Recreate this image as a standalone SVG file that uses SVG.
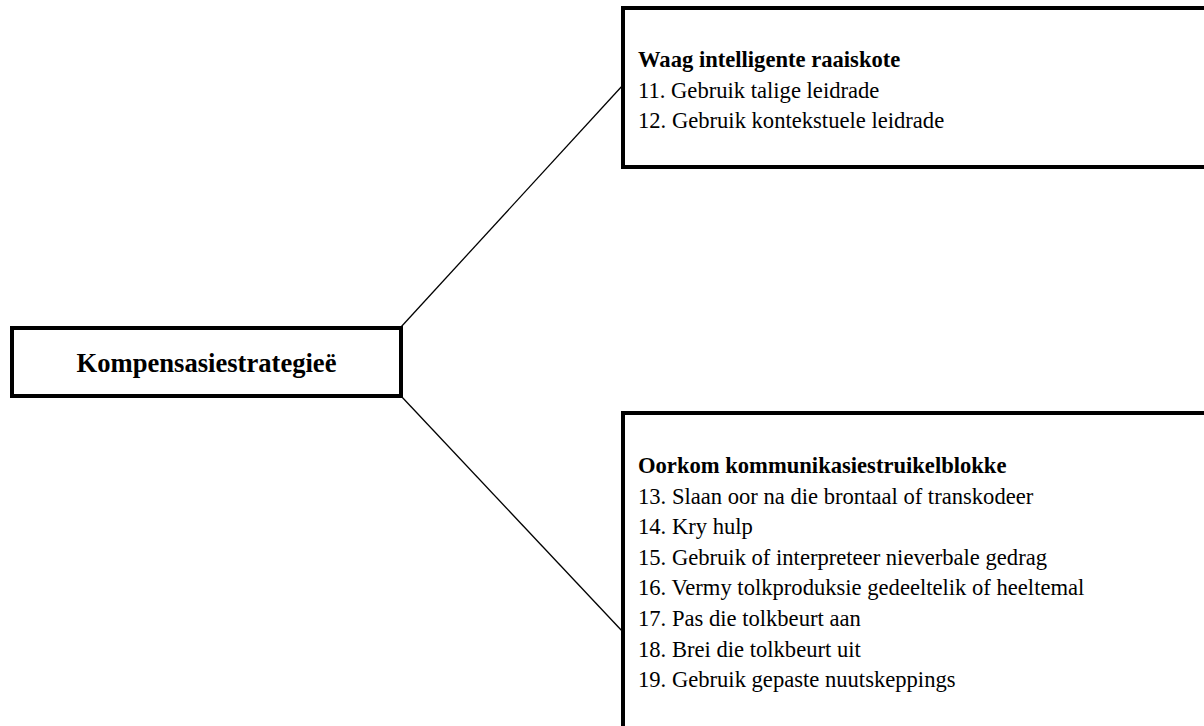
<svg xmlns="http://www.w3.org/2000/svg" width="1204" height="726" viewBox="0 0 1204 726">
<style>
.box{fill:#fff;stroke:#000;stroke-width:4}
.con{stroke:#000;stroke-width:1.3;fill:none}
text{font-family:"Liberation Serif","Times New Roman",serif;fill:#000}
.t{font-size:22.6px}
.b{font-weight:bold}
.main{font-size:26.6px;font-weight:bold}
</style>
<rect width="1204" height="726" fill="#fff"/>
<g id="connectors">
<line class="con" x1="401" y1="327" x2="623" y2="85"/>
<line class="con" x1="401" y1="396" x2="623" y2="632"/>
</g>
<g id="node-main">
<rect class="box" x="12" y="328" width="389" height="68"/>
<text class="main" x="206.5" y="372" text-anchor="middle">Kompensasiestrategieë</text>
</g>
<g id="node-raaiskote">
<rect class="box" x="623" y="8" width="600" height="159"/>
<text class="t" x="638" y="67"><tspan class="b">Waag intelligente raaiskote</tspan><tspan x="638" y="97.5">11. Gebruik talige leidrade</tspan><tspan x="638" y="128">12. Gebruik kontekstuele leidrade</tspan></text>
</g>
<g id="node-struikelblokke">
<rect class="box" x="623" y="413" width="600" height="340"/>
<text class="t" x="638" y="473"><tspan class="b">Oorkom kommunikasiestruikelblokke</tspan><tspan x="638" y="503.6">13. Slaan oor na die brontaal of transkodeer</tspan><tspan x="638" y="534.2">14. Kry hulp</tspan><tspan x="638" y="564.8">15. Gebruik of interpreteer nieverbale gedrag</tspan><tspan x="638" y="595.4">16. Vermy tolkproduksie gedeeltelik of heeltemal</tspan><tspan x="638" y="626">17. Pas die tolkbeurt aan</tspan><tspan x="638" y="656.6">18. Brei die tolkbeurt uit</tspan><tspan x="638" y="687.2">19. Gebruik gepaste nuutskeppings</tspan></text>
</g>
</svg>
